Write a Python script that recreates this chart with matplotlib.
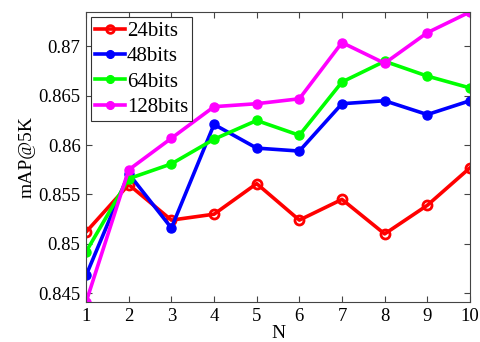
import matplotlib
matplotlib.use("Agg")
import matplotlib.pyplot as plt

N = [1, 2, 3, 4, 5, 6, 7, 8, 9, 10]
map_24 = [0.8512, 0.8560, 0.8524, 0.8530, 0.8561, 0.8524, 0.8545, 0.8510, 0.8539, 0.8577]
map_48 = [0.8468, 0.8571, 0.8516, 0.8621, 0.8597, 0.8594, 0.8642, 0.8645, 0.8631, 0.8645]
map_64 = [0.8492, 0.8566, 0.8581, 0.8606, 0.8625, 0.8610, 0.8664, 0.8685, 0.8670, 0.8658]
map_128 = [0.8441, 0.8575, 0.8607, 0.8639, 0.8642, 0.8647, 0.8704, 0.8683, 0.8714, 0.8735]
yticks = [0.845, 0.85, 0.855, 0.86, 0.865, 0.87]
ytick_labels = ["0.845", "0.85", "0.855", "0.86", "0.865", "0.87"]

plt.rcParams["font.family"] = "Liberation Serif"

fig = plt.figure(figsize=(4.81, 3.42), dpi=100)
ax = fig.add_axes([0.179, 0.117, 0.798, 0.848])

ax.plot(N, map_24, color="#ff0000", lw=2.6, marker="o", ms=6.5,
        mfc="none", mec="#ff0000", mew=2, label="24bits")
ax.plot(N, map_48, color="#0000ff", lw=2.6, marker="o", ms=6.5, label="48bits")
ax.plot(N, map_64, color="#00ff00", lw=2.6, marker="o", ms=6.5, label="64bits")
ax.plot(N, map_128, color="#ff00ff", lw=2.6, marker="o", ms=6.5, label="128bits")

ax.set_xlim(1, 10)
ax.set_ylim(min(map_128), max(map_128))
ax.set_xticks(N)
ax.set_yticks(yticks)
ax.set_yticklabels(ytick_labels)
ax.tick_params(direction="in", top=True, right=True, labelsize=13.5,
               length=4, color="#444444", pad=4)
for s in ax.spines.values():
    s.set_color("#444444")
    s.set_linewidth(0.8)

ax.set_xlabel("N", fontsize=14, labelpad=0)
ax.set_ylabel("mAP@5K", fontsize=14, labelpad=2)

leg = ax.legend(loc="upper left", fontsize=15, fancybox=False,
                edgecolor="#333333", handlelength=1.4, handletextpad=0.1,
                borderpad=0.2, labelspacing=0.28, borderaxespad=0.25,
                framealpha=1, markerscale=0.85)
leg.get_frame().set_linewidth(0.8)

fig.savefig("out.png", dpi=100)
